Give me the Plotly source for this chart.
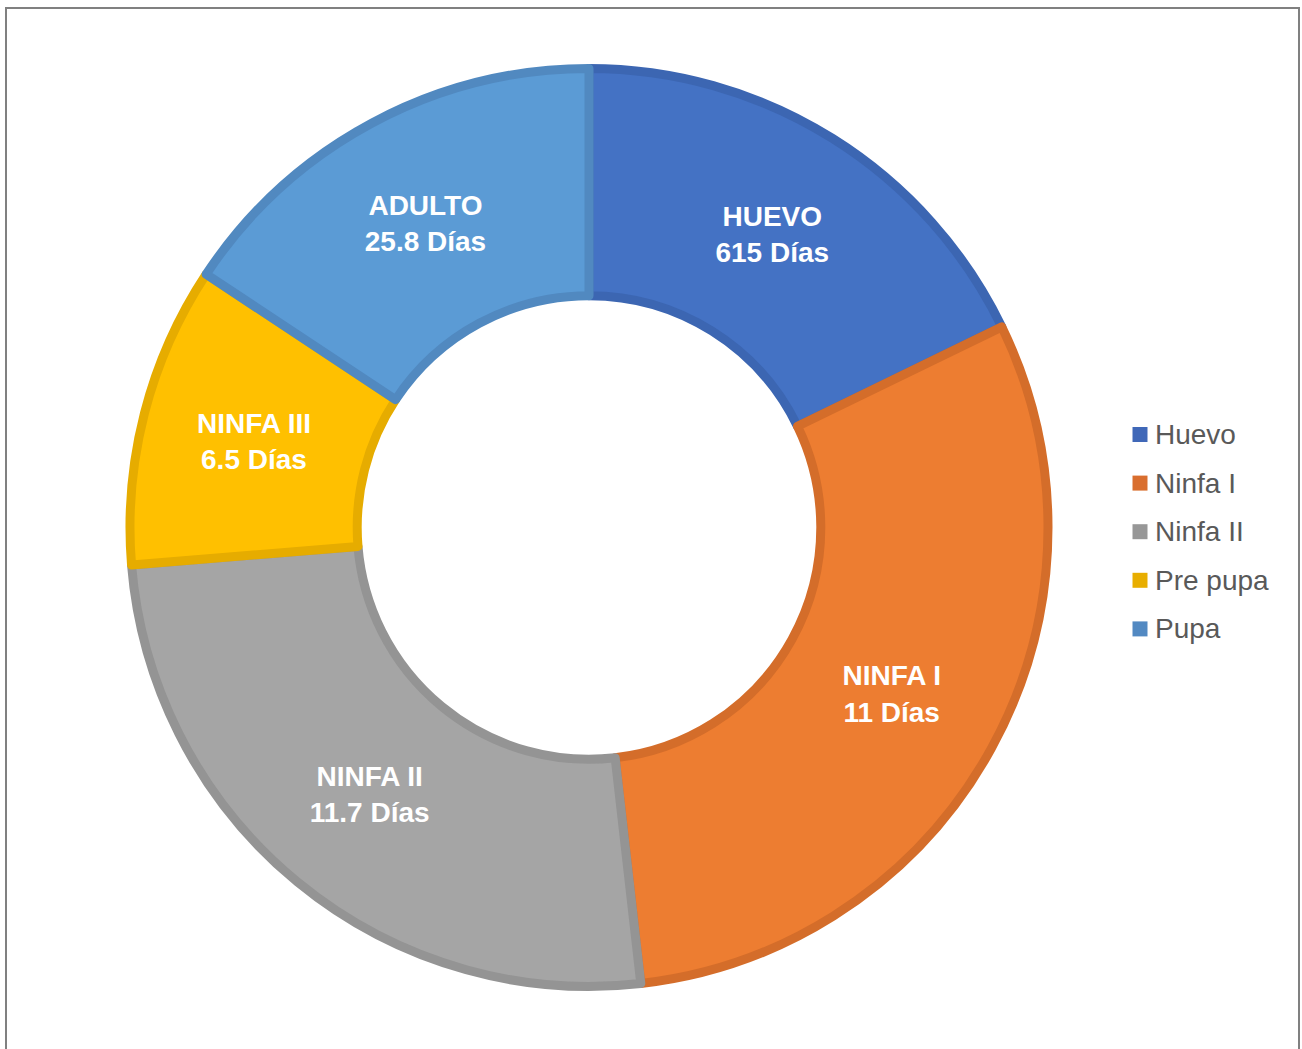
import plotly.graph_objects as go

# Data
stages = ["Huevo", "Ninfa I", "Ninfa II", "Pre pupa", "Pupa"]
shares = [17.8, 30.4, 25.5, 10.6, 15.7]  # slice share (%)
slice_labels = ["HUEVO<br>615 Días", "NINFA I<br>11 Días", "NINFA II<br>11.7 Días",
                "NINFA III<br>6.5 Días", "ADULTO<br>25.8 Días"]

fill_colors = ["#4472C4", "#ED7D31", "#A5A5A5", "#FFC000", "#5B9BD5"]
edge_colors = ["#3C66B2", "#D46D2A", "#949494", "#E6AC00", "#5189C0"]
legend_colors = ["#4068B8", "#D96E2E", "#979797", "#E8AE00", "#5289C2"]

W, H = 1302, 1049
cx, cy, R = 589, 527.5, 459

fig = go.Figure(go.Pie(
    labels=stages,
    values=shares,
    text=slice_labels,
    texttemplate="%{text}",
    textinfo="text",
    textposition="inside",
    insidetextorientation="horizontal",
    textfont=dict(family="Liberation Sans, Arial, sans-serif", size=28, color="white", weight="bold"),
    hole=0.505,
    sort=False,
    direction="clockwise",
    rotation=0,
    marker=dict(colors=fill_colors, line=dict(color=edge_colors, width=9)),
    domain=dict(x=[(cx - R) / W, (cx + R) / W], y=[1 - (cy + R) / H, 1 - (cy - R) / H]),
    hoverinfo="label+value",
    showlegend=False,
))

# manual legend (squares + text) to match the reference spacing
leg_x0, leg_y0, leg_dy, sq = 1132.5, 434.5, 48.6, 15
shapes = [
    dict(type="rect", xref="paper", yref="paper",
         x0=6 / W, x1=1299 / W, y0=-0.05, y1=1 - 8 / H,
         line=dict(color="#808080", width=2), fillcolor="rgba(0,0,0,0)", layer="above"),
]
annotations = []
for i, (name, col) in enumerate(zip(stages, legend_colors)):
    yc = leg_y0 + i * leg_dy
    shapes.append(dict(type="rect", xref="paper", yref="paper",
                       x0=leg_x0 / W, x1=(leg_x0 + sq) / W,
                       y0=1 - (yc + sq / 2) / H, y1=1 - (yc - sq / 2) / H,
                       line=dict(width=0), fillcolor=col))
    annotations.append(dict(text=name, xref="paper", yref="paper",
                            x=(leg_x0 + sq + 5) / W, y=1 - yc / H,
                            xanchor="left", yanchor="middle", showarrow=False,
                            font=dict(family="Liberation Sans, Arial, sans-serif", size=28, color="#595959")))

fig.update_layout(
    width=W, height=H,
    margin=dict(l=0, r=0, t=0, b=0),
    paper_bgcolor="white",
    showlegend=False,
    shapes=shapes,
    annotations=annotations,
)

fig.write_html("out.html", config={"displayModeBar": False},
               post_script="document.body.style.margin='0';document.body.style.overflow='hidden';")
